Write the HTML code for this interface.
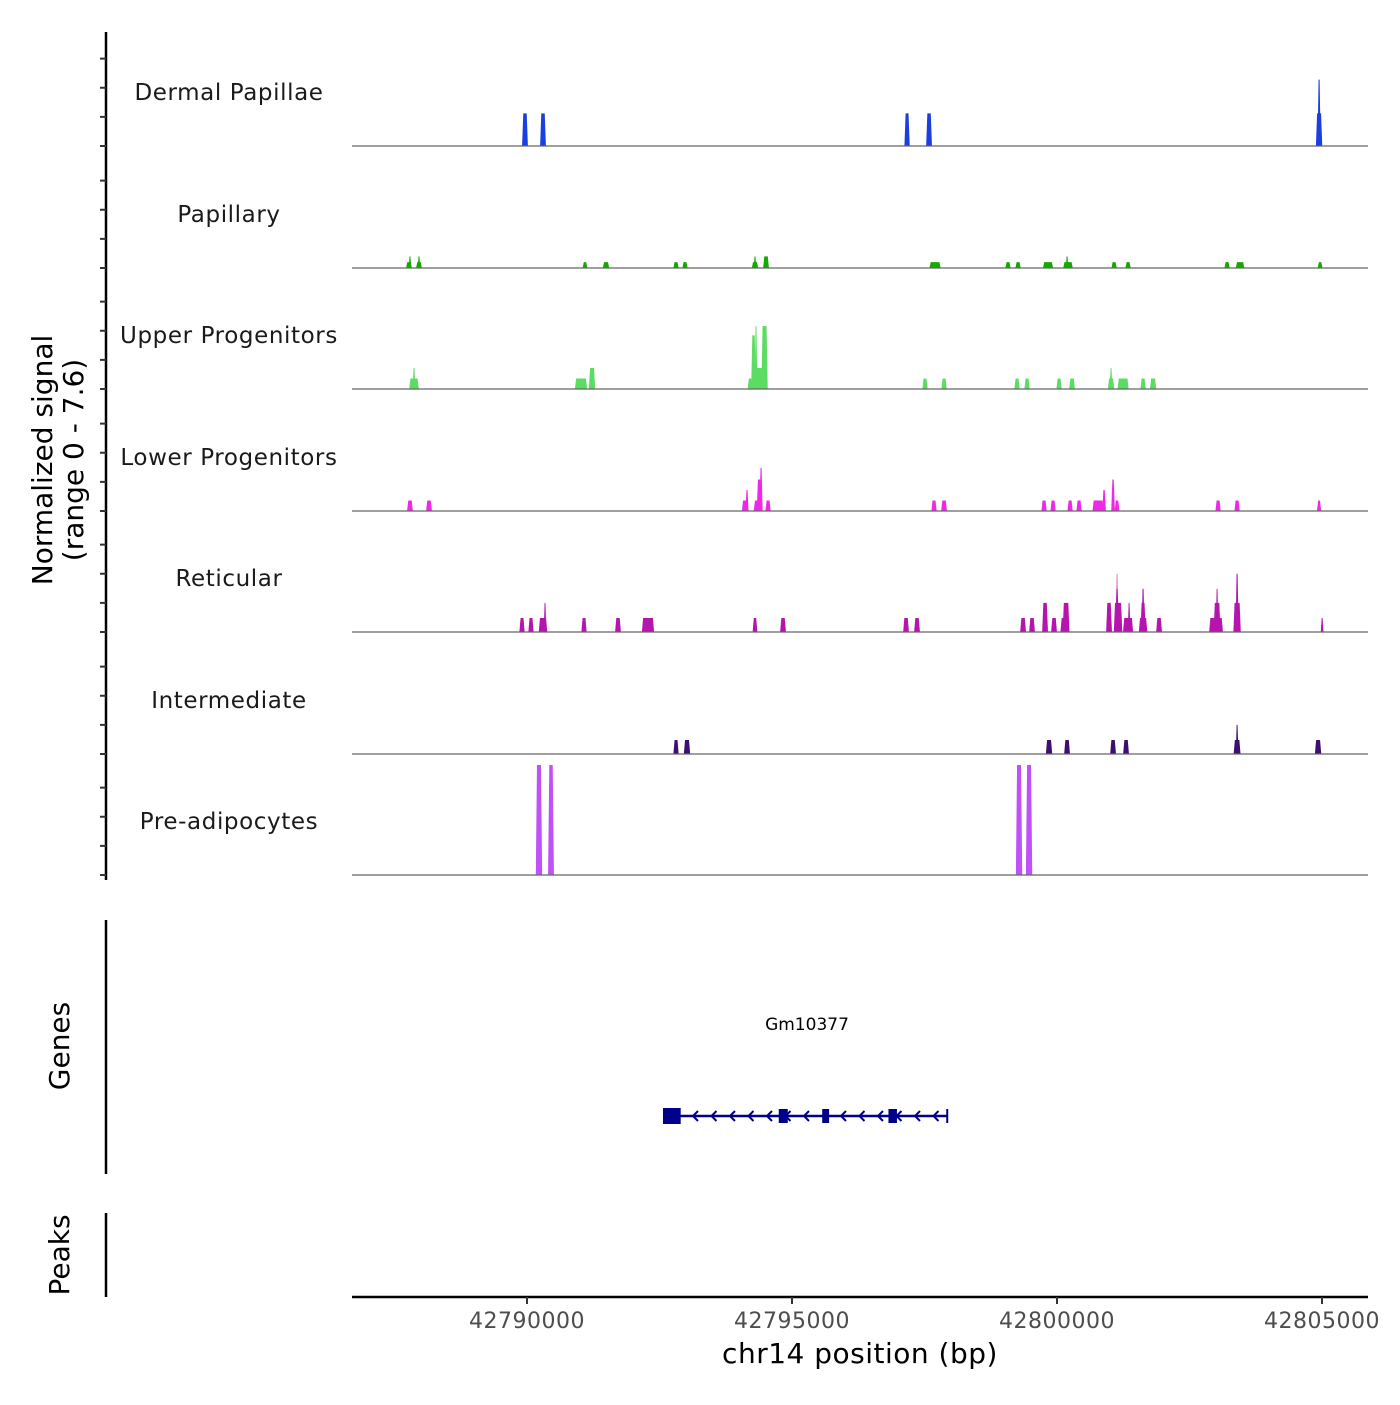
<!DOCTYPE html>
<html><head><meta charset="utf-8"><style>
body{margin:0;background:#fff}
svg text{font-family:"DejaVu Sans","Liberation Sans",sans-serif}
</style></head><body>
<svg id="chart" width="1400" height="1400" xmlns="http://www.w3.org/2000/svg"></svg>
<script>
const trackNames=["Dermal Papillae","Papillary","Upper Progenitors","Lower Progenitors","Reticular","Intermediate","Pre-adipocytes"];
const trackColors=["#1a3fe0","#14a800","#5ddc63","#f026e8","#b515ad","#3e0f6e","#c050f8"];
// peaks: [center bp, width bp, normalized signal]
const peaksDP=[[42789962,110,2.8],[42790302,110,2.8],[42797171,100,2.8],[42797586,110,2.8],[42804945,120,2.8],[42804945,60,5.7]];
const peaksPap=[[42787773,110,0.5],[42787792,50,1.0],[42787962,110,0.5],[42787962,50,1.0],[42791094,90,0.5],[42791491,120,0.5],[42792812,100,0.5],[42792981,100,0.5],[42794302,120,0.5],[42794302,50,1.0],[42794510,110,1.0],[42797699,210,0.5],[42799076,100,0.5],[42799265,100,0.5],[42799831,190,0.5],[42800208,180,0.5],[42800190,50,1.0],[42801077,100,0.5],[42801341,100,0.5],[42803209,100,0.5],[42803454,160,0.5],[42804964,90,0.5]];
const peaksUp=[[42787868,180,0.9],[42787868,50,1.8],[42791019,230,0.9],[42791227,120,1.8],[42794208,90,0.9],[42794274,90,4.6],[42794321,50,5.4],[42794380,150,1.8],[42794482,120,5.4],[42797510,100,0.9],[42797869,100,0.9],[42799246,100,0.9],[42799435,100,0.9],[42800039,100,0.9],[42800284,110,0.9],[42801020,120,0.9],[42801020,50,1.8],[42801247,210,0.9],[42801624,100,0.9],[42801813,120,0.9]];
const peaksLow=[[42787792,110,0.9],[42788151,110,0.9],[42794114,120,0.9],[42794151,60,1.8],[42794359,160,0.9],[42794380,90,2.7],[42794416,60,3.7],[42794548,100,0.9],[42797680,100,0.9],[42797869,110,0.9],[42799756,100,0.9],[42799926,100,0.9],[42800247,100,0.9],[42800416,100,0.9],[42800775,210,0.9],[42800888,70,1.8],[42801058,70,2.7],[42801133,90,0.9],[42803039,100,0.9],[42803398,100,0.9],[42804945,80,0.9]];
const peaksRet=[[42789906,100,1.2],[42790075,100,1.2],[42790302,160,1.2],[42790340,50,2.5],[42791076,100,1.2],[42791717,110,1.2],[42792283,230,1.2],[42794302,90,1.2],[42794831,110,1.2],[42797152,110,1.2],[42797359,110,1.2],[42799360,110,1.2],[42799529,110,1.2],[42799775,110,2.5],[42799944,110,1.2],[42800130,130,1.2],[42800171,130,2.5],[42800982,110,2.5],[42801152,160,2.5],[42801133,70,3.7],[42801133,30,5.0],[42801341,190,1.2],[42801360,50,2.5],[42801624,160,1.2],[42801624,100,2.5],[42801624,60,3.7],[42801926,110,1.2],[42803001,260,1.2],[42803020,130,2.5],[42803020,50,3.7],[42803398,140,2.5],[42803398,60,5.0],[42805002,50,1.2]];
const peaksInt=[[42792812,100,1.2],[42793019,120,1.2],[42799850,120,1.2],[42800190,110,1.2],[42801058,110,1.2],[42801303,110,1.2],[42803398,130,1.2],[42803398,50,2.5],[42804926,120,1.2]];
const peaksPre=[[42790226,120,9.5],[42790453,110,9.5],[42799284,120,9.5],[42799473,120,9.5]];
const allPeaks=[peaksDP,peaksPap,peaksUp,peaksLow,peaksRet,peaksInt,peaksPre];
const xTicks=[42790000,42795000,42800000,42805000];
const yTickVals=[0,2.5,5,7.5];
const geneStart=42792566, geneEnd=42797944;
const exons=[[42792566,42792900],[42794750,42794920],[42795570,42795700],[42796820,42796980],[42797910,42797944]];

const NS="http://www.w3.org/2000/svg";
const svg=document.getElementById('chart');
function mk(tag,attrs,parent){const e=document.createElementNS(NS,tag);for(const k in attrs)e.setAttribute(k,attrs[k]);(parent||svg).appendChild(e);return e;}
const X0=42790000, PX0=527, PXPERBP=(1322-527)/15000;
function xs(bp){return PX0+(bp-X0)*PXPERBP;}
const bases=[146,268,389,511,632,754,875];
const UNIT=11.65, TRACKH=110;
function ys(i,v){return bases[i]-Math.min(v*UNIT,TRACKH);}

let ax=mk('line',{x1:106,y1:32,x2:106,y2:880,stroke:'#000','stroke-width':2.5});

bases.forEach((b,i)=>{
  yTickVals.forEach(v=>{
    const t=mk('line',{x1:100,x2:106,y1:ys(i,v),y2:ys(i,v),stroke:'#333','stroke-width':2});
    
  });
});
let yt=mk('text',{x:0,y:0,'font-size':28,'text-anchor':'middle',fill:'#000',transform:'translate(52,460) rotate(-90)'});

mk('tspan',{x:0,dy:0},yt).textContent='Normalized signal';
mk('tspan',{x:0,dy:31},yt).textContent='(range 0 - 7.6)';

trackNames.forEach((n,i)=>{
  const g=mk('g',{});
  
  
  const lab=mk('text',{x:229,y:bases[i]-46,'font-size':23,'text-anchor':'middle',fill:'#1a1a1a','letter-spacing':'0.6'},g);
  lab.textContent=n;
  
  allPeaks[i].forEach(p=>{
    const x0=xs(p[0]-p[1]/2), x1=xs(p[0]+p[1]/2), top=ys(i,p[2]), b=bases[i];
    const s=Math.min(1.2,(x1-x0)/3);
    const poly=mk('polygon',{points:`${x0},${b} ${x0+s},${top} ${x1-s},${top} ${x1},${b}`,fill:trackColors[i]},g);
    
  });
  const bl=mk('line',{x1:352,x2:1368,y1:bases[i],y2:bases[i],stroke:'#666','stroke-width':1.3},g);
  
});

let ga=mk('line',{x1:106,y1:920,x2:106,y2:1174,stroke:'#000','stroke-width':2.5});

let gt=mk('text',{x:0,y:0,'font-size':28,'text-anchor':'middle',fill:'#000',transform:'translate(69,1046) rotate(-90)'});
gt.textContent='Genes';
const gg=mk('g',{});

mk('line',{x1:xs(geneStart),x2:xs(geneEnd),y1:1116,y2:1116,stroke:'#00008b','stroke-width':2.5},gg);
exons.forEach((e,k)=>{
  const h=k==0?16:14;
  const r=mk('rect',{x:xs(e[0]),y:1116-h/2,width:Math.max(2,xs(e[1])-xs(e[0])),height:h,fill:'#00008b'},gg);
  
});
for(let x=xs(geneStart)+30;x<xs(geneEnd);x+=18.5){
  mk('polyline',{points:`${x+5},1111 ${x},1116 ${x+5},1121`,fill:'none',stroke:'#00008b','stroke-width':2},gg);
}
let gl=mk('text',{x:807,y:1030,'font-size':17,'text-anchor':'middle',fill:'#000'},gg);
gl.textContent='Gm10377';

let pa=mk('line',{x1:106,y1:1213,x2:106,y2:1297,stroke:'#000','stroke-width':2.5});

let pt=mk('text',{x:0,y:0,'font-size':28,'text-anchor':'middle',fill:'#000',transform:'translate(69,1255) rotate(-90)'});
pt.textContent='Peaks';

let xa=mk('line',{x1:352,x2:1368,y1:1297,y2:1297,stroke:'#000','stroke-width':2.5});

xTicks.forEach(t=>{
  const tk=mk('line',{x1:xs(t),x2:xs(t),y1:1297,y2:1304,stroke:'#333','stroke-width':2});
  
  const l=mk('text',{x:xs(t),y:1328,'font-size':22,'text-anchor':'middle',fill:'#4d4d4d','letter-spacing':'0.5'});
  l.textContent=t;
  
});
let xt=mk('text',{x:860,y:1363,'font-size':28,'text-anchor':'middle',fill:'#000','letter-spacing':'0.5'});

xt.textContent='chr14 position (bp)';
</script>
</body></html>
